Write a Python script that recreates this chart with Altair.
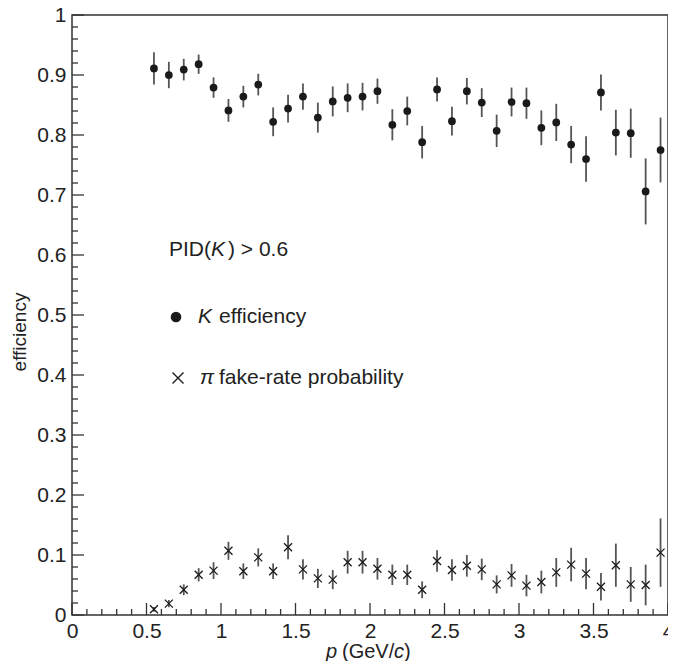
import altair as alt
import pandas as pd
import numpy as np

# ---- data ----
p_bins = [0.55, 0.65, 0.75, 0.85, 0.95, 1.05, 1.15, 1.25, 1.35, 1.45, 1.55, 1.65,
          1.75, 1.85, 1.95, 2.05, 2.15, 2.25, 2.35, 2.45, 2.55, 2.65, 2.75, 2.85,
          2.95, 3.05, 3.15, 3.25, 3.35, 3.45, 3.55, 3.65, 3.75, 3.85, 3.95]
k_eff = [0.911, 0.900, 0.909, 0.918, 0.879, 0.841, 0.864, 0.884, 0.822, 0.844,
         0.864, 0.829, 0.856, 0.862, 0.864, 0.873, 0.817, 0.840, 0.788, 0.876,
         0.823, 0.873, 0.854, 0.807, 0.855, 0.853, 0.812, 0.821, 0.784, 0.760,
         0.871, 0.804, 0.803, 0.706, 0.775]
k_err = [0.027, 0.022, 0.018, 0.016, 0.017, 0.019, 0.018, 0.018, 0.024, 0.023,
         0.022, 0.025, 0.025, 0.024, 0.023, 0.021, 0.026, 0.024, 0.027, 0.020,
         0.024, 0.022, 0.024, 0.027, 0.024, 0.026, 0.029, 0.031, 0.031, 0.038,
         0.030, 0.038, 0.041, 0.055, 0.054]
pi_rate = [0.0095, 0.019, 0.042, 0.067, 0.074, 0.107, 0.073, 0.096, 0.073, 0.113,
           0.076, 0.061, 0.059, 0.088, 0.088, 0.077, 0.067, 0.067, 0.042, 0.090,
           0.075, 0.082, 0.076, 0.051, 0.066, 0.049, 0.055, 0.071, 0.084, 0.069,
           0.047, 0.083, 0.051, 0.050, 0.104]
pi_err = [0.004, 0.006, 0.009, 0.011, 0.014, 0.015, 0.013, 0.015, 0.013, 0.020,
          0.017, 0.016, 0.016, 0.019, 0.019, 0.018, 0.017, 0.017, 0.014, 0.018,
          0.018, 0.018, 0.018, 0.015, 0.019, 0.018, 0.019, 0.024, 0.028, 0.026,
          0.023, 0.036, 0.029, 0.034, 0.057]

x_major = [0, 0.5, 1, 1.5, 2, 2.5, 3, 3.5, 4]
x_minor = [round(v, 2) for v in np.arange(0, 4.001, 0.1) if round(v * 10) % 5 != 0]
y_major = [0, 0.1, 0.2, 0.3, 0.4, 0.5, 0.6, 0.7, 0.8, 0.9, 1]
y_minor = [round(v, 3) for v in np.arange(0, 1.0001, 0.02) if round(v * 50) % 5 != 0]

FONT = "Liberation Sans"
INK = "#1a1a1a"
BAR = "#555555"

k_df = pd.DataFrame({"p": p_bins, "v": k_eff, "e": k_err})
k_df["lo"] = k_df["v"] - k_df["e"]
k_df["hi"] = k_df["v"] + k_df["e"]
pi_df = pd.DataFrame({"p": p_bins, "v": pi_rate, "e": pi_err})
pi_df["lo"] = pi_df["v"] - pi_df["e"]
pi_df["hi"] = pi_df["v"] + pi_df["e"]

xs = alt.Scale(domain=[0, 4], nice=False, zero=False)
ys = alt.Scale(domain=[0, 1], nice=False, zero=False)
xaxis = alt.Axis(values=x_major, format="~g", title=None, ticks=False, tickSize=0,
                 domain=False, grid=False, labelFont=FONT, labelFontSize=21,
                 labelColor="#222", labelPadding=5, labelFlush=False,
                 labelOverlap=False)
yaxis = alt.Axis(values=y_major, format="~g", title=None, ticks=False, tickSize=0,
                 domain=False, grid=False, labelFont=FONT, labelFontSize=21,
                 labelColor="#222", labelPadding=6, labelOverlap=False)

X = lambda f: alt.X(f, scale=xs, axis=xaxis)
Y = lambda f: alt.Y(f, scale=ys, axis=yaxis)

k_bars = alt.Chart(k_df).mark_rule(color=BAR, strokeWidth=1.8).encode(
    x=X("p:Q"), y=Y("lo:Q"), y2="hi:Q")
k_pts = alt.Chart(k_df).mark_point(shape="circle", filled=True, size=60,
                                   color=INK, opacity=1).encode(x=X("p:Q"), y=Y("v:Q"))
pi_bars = alt.Chart(pi_df).mark_rule(color=BAR, strokeWidth=1.8).encode(
    x=X("p:Q"), y=Y("lo:Q"), y2="hi:Q")
CROSS = "M-1,-1L1,1M-1,1L1,-1"
pi_pts = alt.Chart(pi_df).mark_point(shape=CROSS, filled=False, size=64,
                                     color=INK, strokeWidth=1.3, opacity=1).encode(
    x=X("p:Q"), y=Y("v:Q"))

# tick marks pointing inward
TICK = "#333333"
xmaj = alt.Chart(pd.DataFrame({"t": x_major})).mark_rule(color=TICK, strokeWidth=1.3).encode(
    x=X("t:Q"), y=alt.value(600), y2=alt.value(588))
xmin = alt.Chart(pd.DataFrame({"t": x_minor})).mark_rule(color=TICK, strokeWidth=1.3).encode(
    x=X("t:Q"), y=alt.value(600), y2=alt.value(594))
ymaj = alt.Chart(pd.DataFrame({"t": y_major})).mark_rule(color=TICK, strokeWidth=1.3).encode(
    y=Y("t:Q"), x=alt.value(0), x2=alt.value(12))
ymin = alt.Chart(pd.DataFrame({"t": y_minor})).mark_rule(color=TICK, strokeWidth=1.3).encode(
    y=Y("t:Q"), x=alt.value(0), x2=alt.value(6))

dummy = pd.DataFrame({"a": [0]})


def txt(s, x, y, size=21, italic=False, angle=0, align="left"):
    kw = dict(text=s, font=FONT, fontSize=size, color="#222", align=align,
              baseline="middle")
    if italic:
        kw["fontStyle"] = "italic"
    if angle:
        kw["angle"] = angle
    return alt.Chart(dummy).mark_text(**kw).encode(x=alt.value(x), y=alt.value(y))


annots = [
    txt("PID(", 97, 235),
    txt("K", 139, 235, italic=True),
    txt(") > 0.6", 156, 235),
    txt("K", 126, 302, italic=True),
    txt("efficiency", 147, 302),
    txt("π", 128, 363, italic=True),
    txt("fake-rate probability", 147, 363),
    # axis titles
    txt("p", 254, 637, size=20, italic=True),
    txt("(GeV/", 270, 637, size=20),
    txt("c", 322, 637, size=20, italic=True),
    txt(")", 332, 637, size=20),
    txt("efficiency", -52, 317, size=19, angle=270, align="center"),
]

leg_circle = alt.Chart(dummy).mark_point(shape="circle", filled=True, size=113,
                                         color=INK, opacity=1).encode(
    x=alt.value(104), y=alt.value(302))
leg_cross = alt.Chart(dummy).mark_point(shape=CROSS, filled=False, size=121,
                                        color=INK, strokeWidth=1.4, opacity=1).encode(
    x=alt.value(106), y=alt.value(363))

chart = alt.layer(
    xmaj, xmin, ymaj, ymin, k_bars, pi_bars, k_pts, pi_pts, leg_circle, leg_cross, *annots
).properties(
    width=596, height=600,
    autosize=alt.AutoSizeParams(type="none"),
    padding={"left": 64, "top": 7, "right": 0, "bottom": 46},
    background="white",
).configure_view(stroke="#333333", strokeWidth=1.5)

chart.save("out.html", embed_options={"renderer": "svg", "actions": False})
